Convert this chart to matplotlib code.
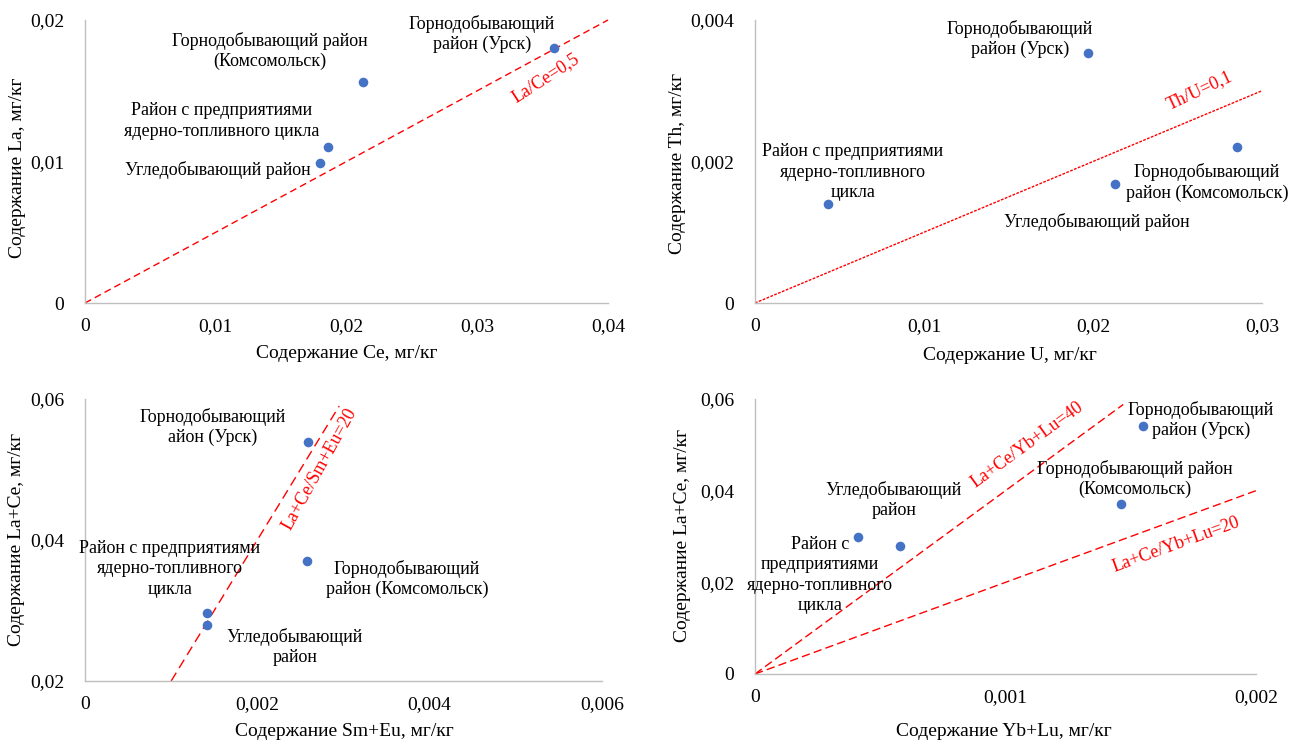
import matplotlib
matplotlib.use("Agg")
import matplotlib.pyplot as plt
from matplotlib.ticker import FixedLocator, FuncFormatter

plt.rcParams["font.family"] = ["Liberation Serif", "DejaVu Serif"]

W, H = 1306, 744

# ---- data -------------------------------------------------------------
# panel 1: La vs Ce
ce = [0.0359, 0.0213, 0.0186, 0.0180]
la = [0.0180, 0.0156, 0.0110, 0.0099]
# panel 2: Th vs U
u_ = [0.0197, 0.0285, 0.0213, 0.0043]
th = [0.00353, 0.00221, 0.00168, 0.00140]
# panel 3: La+Ce vs Sm+Eu
smeu = [0.00259, 0.00258, 0.00142, 0.00142]
lace3 = [0.0539, 0.0370, 0.02965, 0.0279]
# panel 4: La+Ce vs Yb+Lu
yblu = [0.00155, 0.00146, 0.00041, 0.00058]
lace4 = [0.0542, 0.0371, 0.0298, 0.0280]

# reference ratios
ratio_lace = 0.5
ratio_thu = 0.1
ratio_smeu = 20
ratio_yblu_hi = 40
ratio_yblu_lo = 20

p1_xticks = [0, 0.01, 0.02, 0.03, 0.04]
p1_yticks = [0, 0.01, 0.02]
p2_xticks = [0, 0.01, 0.02, 0.03]
p2_yticks = [0, 0.002, 0.004]
p3_xticks = [0, 0.002, 0.004, 0.006]
p3_yticks = [0.02, 0.04, 0.06]
p4_xticks = [0, 0.001, 0.002]
p4_yticks = [0, 0.02, 0.04, 0.06]

BLUE = "#4472C4"
RED = "#FF0000"
SPINE = "#BFBFBF"
FS_TICK = 14
FS_LAB = 13
FS_TITLE = 14

fig = plt.figure(figsize=(W / 100, H / 100), dpi=100)


def make_axes(left, right, top, bottom):
    return fig.add_axes([left / W, 1 - bottom / H, (right - left) / W, (bottom - top) / H])


def comma(v, _pos=None):
    if v == 0:
        return "0"
    s = f"{v:.3f}".rstrip("0")
    return s.replace(".", ",")


def style(ax, xt, yt):
    ax.set_xlim(xt[0], xt[-1])
    ax.set_ylim(yt[0], yt[-1])
    ax.xaxis.set_major_locator(FixedLocator(xt))
    ax.yaxis.set_major_locator(FixedLocator(yt))
    ax.xaxis.set_major_formatter(FuncFormatter(comma))
    ax.yaxis.set_major_formatter(FuncFormatter(comma))
    ax.tick_params(length=0, labelsize=FS_TICK, pad=11)
    ax.tick_params(axis="y", pad=15)
    for side in ("top", "right"):
        ax.spines[side].set_visible(False)
    for side in ("left", "bottom"):
        ax.spines[side].set_color(SPINE)
        ax.spines[side].set_linewidth(1.0)
    ax.set_facecolor("none")


def points(ax, x, y):
    ax.scatter(x, y, s=48, color=BLUE, zorder=4, clip_on=False, linewidths=0)


def label(ax, x, y, txt, **kw):
    ax.text(x, y, txt, ha="center", va="center", fontsize=FS_LAB,
            linespacing=1.25, zorder=5, clip_on=False, **kw)


# ---- panel 1 ------------------------------------------------------------
ax1 = make_axes(85, 608, 20, 303)
style(ax1, p1_xticks, p1_yticks)
x_end = 0.04
ax1.plot([0, x_end], [0, ratio_lace * x_end], color=RED, lw=1.0,
         linestyle=(0, (5, 3)), clip_on=False)
points(ax1, ce, la)
label(ax1, 0.03036, 0.0190, "Горнодобывающий\nрайон (Урск)")
label(ax1, 0.01415, 0.01781, "Горнодобывающий район\n(Комсомольск)")
label(ax1, 0.01048, 0.01286, "Район с предприятиями\nядерно-топливного цикла")
label(ax1, 0.01017, 0.0094, "Угледобывающий район")
ax1.text(0.03526, 0.0159, "La/Ce=0,5", color=RED, fontsize=FS_LAB, rotation=33,
         ha="center", va="center", rotation_mode="anchor")

# ---- panel 2 ------------------------------------------------------------
ax2 = make_axes(755, 1262, 20, 303)
style(ax2, p2_xticks, p2_yticks)
x_end = 0.03
ax2.plot([0, x_end], [0, ratio_thu * x_end], color=RED, lw=1.0,
         linestyle=(0, (2, 1)), clip_on=False)
points(ax2, u_, th)
label(ax2, 0.01568, 0.00373, "Горнодобывающий\nрайон (Урск)")
label(ax2, 0.0058, 0.00185, "Район с предприятиями\nядерно-топливного\nцикла")
label(ax2, 0.02675, 0.0017, "Горнодобывающий\nрайон (Комсомольск)")
label(ax2, 0.02024, 0.00114, "Угледобывающий район")
ax2.text(0.02633, 0.00301, "Th/U=0,1", color=RED, fontsize=FS_LAB, rotation=25,
         ha="center", va="center", rotation_mode="anchor")

# ---- panel 3 ------------------------------------------------------------
ax3 = make_axes(85, 602, 399, 681)
style(ax3, p3_xticks, p3_yticks)
y0, y1 = 0.02, 0.059
ax3.plot([y0 / ratio_smeu, y1 / ratio_smeu], [y0, y1], color=RED, lw=1.0,
         linestyle=(0, (7, 4)), clip_on=False)
points(ax3, smeu, lace3)
label(ax3, 0.001486, 0.05603, "Горнодобывающий\nайон (Урск)")
label(ax3, 0.000986, 0.03589, "Район с предприятиями\nядерно-топливного\nцикла")
label(ax3, 0.003737, 0.03447, "Горнодобывающий\nрайон (Комсомольск)")
label(ax3, 0.002437, 0.02482, "Угледобывающий\nрайон")
ax3.text(0.002727, 0.05007, "La+Ce/Sm+Eu=20", color=RED, fontsize=FS_LAB, rotation=61,
         ha="center", va="center", rotation_mode="anchor")

# ---- panel 4 ------------------------------------------------------------
ax4 = make_axes(755, 1256, 399, 674)
style(ax4, p4_xticks, p4_yticks)
x_hi, x_lo = 0.00147, 0.002
ax4.plot([0, x_hi], [0, ratio_yblu_hi * x_hi], color=RED, lw=1.0,
         linestyle=(0, (6, 3)), clip_on=False)
ax4.plot([0, x_lo], [0, ratio_yblu_lo * x_lo], color=RED, lw=1.0,
         linestyle=(0, (6, 3)), clip_on=False)
points(ax4, yblu, lace4)
label(ax4, 0.00178, 0.05542, "Горнодобывающий\nрайон (Урск)")
label(ax4, 0.001517, 0.04255, "Горнодобывающий район\n(Комсомольск)")
label(ax4, 0.000555, 0.03796, "Угледобывающий\nрайон")
label(ax4, 0.00026, 0.0216, "Район с\nпредприятиями\nядерно-топливного\nцикла")
ax4.text(0.001086, 0.04996, "La+Ce/Yb+Lu=40", color=RED, fontsize=FS_LAB, rotation=36,
         ha="center", va="center", rotation_mode="anchor")
ax4.text(0.00168, 0.02815, "La+Ce/Yb+Lu=20", color=RED, fontsize=FS_LAB, rotation=20,
         ha="center", va="center", rotation_mode="anchor")

# ---- axis titles ----------------------------------------------------------
def ftext(px, py, txt, rot=0):
    fig.text(px / W, 1 - py / H, txt, ha="center", va="center", rotation=rot,
             fontsize=FS_TITLE)


ftext(347, 353, "Содержание Ce, мг/кг")
ftext(18, 168, "Содержание La, мг/кг", 90)
ftext(1010, 355, "Содержание U, мг/кг")
ftext(678, 163, "Содержание Th, мг/кг", 90)
ftext(344, 732, "Содержание Sm+Eu, мг/кг")
ftext(17, 539, "Содержание La+Ce, мг/кг", 90)
ftext(1004, 731, "Содержание Yb+Lu, мг/кг")
ftext(682, 535, "Содержание La+Ce, мг/кг", 90)

fig.savefig("out.png", dpi=100, facecolor="white")
